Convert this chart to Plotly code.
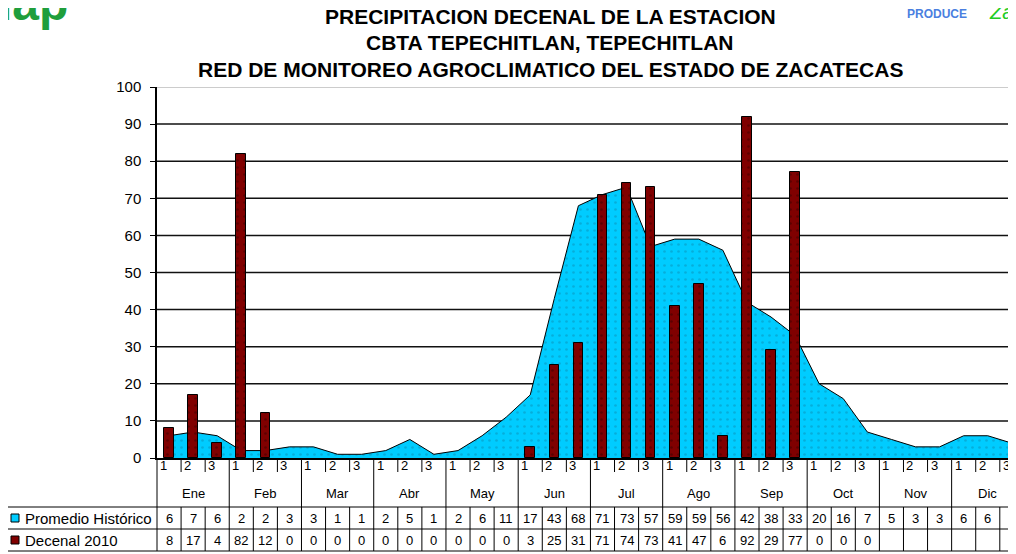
import plotly.graph_objects as go

# ---------------- data ----------------
months = ["Ene", "Feb", "Mar", "Abr", "May", "Jun", "Jul", "Ago", "Sep", "Oct", "Nov", "Dic"]
decades = ["1", "2", "3"]
promedio = [6, 7, 6, 2, 2, 3, 3, 1, 1, 2, 5, 1, 2, 6, 11, 17, 43, 68,
            71, 73, 57, 59, 59, 56, 42, 38, 33, 20, 16, 7, 5, 3, 3, 6, 6, 4]
decenal = [8, 17, 4, 82, 12, 0, 0, 0, 0, 0, 0, 0, 0, 0, 0, 3, 25, 31,
           71, 74, 73, 41, 47, 6, 92, 29, 77, 0, 0, 0, None, None, None, None, None, None]
yticks = list(range(0, 101, 10))
series_names = ["Promedio Histórico", "Decenal 2010"]
title_lines = ["PRECIPITACION DECENAL DE LA ESTACION",
               "CBTA TEPECHITLAN, TEPECHITLAN",
               "RED DE MONITOREO AGROCLIMATICO DEL ESTADO DE ZACATECAS"]

# ---------------- layout geometry ----------------
OFF = 8                       # page body margin of the browser
WIN_W, WIN_H = 1016, 554
W, H = WIN_W - OFF, WIN_H - OFF
PLOT_L, PLOT_T, PLOT_B = 157, 87, 458   # window pixel positions of the plot area
L, T, B, R = PLOT_L - OFF, PLOT_T - OFF, WIN_H - PLOT_B, 0
PH = H - T - B
PW = W - L - R
idx = list(range(len(promedio)))
n = len(idx)
cat_px = 24.08
x_end = -0.5 + PW / cat_px


def py(p):   # window pixel y -> paper y
    return (PLOT_B - p) / PH


def pxp(p):  # window pixel x -> paper x
    return (p - PLOT_L) / PW


FONT = "Liberation Sans, Arial, sans-serif"
CYAN = "#00CCFF"
MAROON = "#800000"

fig = go.Figure()
fig.add_trace(go.Scatter(
    x=idx, y=promedio, mode="lines", name=series_names[0],
    line=dict(color="black", width=1),
    fill="tozeroy", fillcolor=CYAN,
    fillpattern=dict(shape=".", fgcolor="#0a8fb8", bgcolor=CYAN, size=7, solidity=0.12),
))
fig.add_trace(go.Bar(
    x=idx, y=decenal, width=0.4, name=series_names[1], yaxis="y2",
    marker=dict(color=MAROON,
                line=dict(color="black", width=[1 if v else 0 for v in decenal]),
                pattern=dict(shape=".", fgcolor="#3a0000", bgcolor=MAROON, size=7, solidity=0.12)),
))

shapes = []
for v in yticks[1:]:
    shapes.append(dict(type="line", xref="paper", yref="y", x0=0, x1=1, y0=v, y1=v,
                       line=dict(color="#999999" if v == yticks[-1] else "#111111",
                                 width=1 if v == yticks[-1] else 1.5),
                       layer="below"))

# table geometry (window pixels)
y_axis = PLOT_B
y_small = 472
y_row1 = 507
y_row2 = 529
y_row3 = 551
x_tab_left = 7

for i in range(1, n + 1):
    xb = i - 0.5
    if i % 3 == 0:
        shapes.append(dict(type="line", xref="x", yref="paper", x0=xb, x1=xb,
                           y0=py(y_axis), y1=py(y_row3), line=dict(color="black", width=1)))
    else:
        shapes.append(dict(type="line", xref="x", yref="paper", x0=xb, x1=xb,
                           y0=py(y_axis), y1=py(y_small), line=dict(color="black", width=1)))
        shapes.append(dict(type="line", xref="x", yref="paper", x0=xb, x1=xb,
                           y0=py(y_row1), y1=py(y_row3), line=dict(color="black", width=1)))
shapes.append(dict(type="line", xref="paper", yref="paper", x0=0, x1=0,
                   y0=py(y_axis), y1=py(y_row3), line=dict(color="black", width=1)))
for yy in (y_row1, y_row2, y_row3):
    shapes.append(dict(type="line", xref="paper", yref="paper", x0=pxp(x_tab_left), x1=1,
                       y0=py(yy), y1=py(yy), line=dict(color="black", width=1)))
shapes.append(dict(type="line", xref="paper", yref="paper", x0=pxp(x_tab_left), x1=pxp(x_tab_left),
                   y0=py(y_row1), y1=py(y_row3), line=dict(color="black", width=1)))
for yc, col in [(518, CYAN), (540, MAROON)]:
    shapes.append(dict(type="rect", xref="paper", yref="paper",
                       x0=pxp(11), x1=pxp(19), y0=py(yc - 4), y1=py(yc + 4),
                       fillcolor=col, line=dict(color="black", width=1)))

ann = []
for k, line in enumerate(title_lines):
    ann.append(dict(text=f"<b>{line}</b>", xref="paper", yref="paper", x=pxp(550), y=py(16 + 27 * k),
                    xanchor="center", yanchor="middle", showarrow=False, borderpad=0,
                    font=dict(family=FONT, size=21, color="black")))
for i in idx:
    ann.append(dict(text=decades[i % 3], xref="x", yref="paper", x=i - 0.5, y=py(465),
                    xanchor="left", yanchor="middle", xshift=1, showarrow=False,
                    font=dict(family=FONT, size=13, color="black")))
for m, name in enumerate(months):
    ann.append(dict(text=name, xref="x", yref="paper", x=3 * m + 1, y=py(494),
                    xanchor="center", yanchor="middle", showarrow=False,
                    font=dict(family=FONT, size=13, color="black")))
for i in idx:
    ann.append(dict(text=str(promedio[i]), xref="x", yref="paper", x=i, y=py(518),
                    xanchor="center", yanchor="middle", showarrow=False,
                    font=dict(family=FONT, size=13, color="black")))
    ann.append(dict(text="" if decenal[i] is None else str(decenal[i]), xref="x", yref="paper",
                    x=i, y=py(540), xanchor="center", yanchor="middle", showarrow=False,
                    font=dict(family=FONT, size=13, color="black")))
for nm, yc in zip(series_names, (518, 540)):
    ann.append(dict(text=nm, xref="paper", yref="paper", x=pxp(23), y=py(yc),
                    xanchor="left", yanchor="middle", showarrow=False,
                    font=dict(family=FONT, size=15, color="black")))
# logos (decoration, partly cut at the top as in the reference)
ann.append(dict(text="<b>iap</b>", xref="paper", yref="paper", x=pxp(-2), y=py(31),
                xanchor="left", yanchor="bottom", showarrow=False, borderpad=0,
                font=dict(family=FONT, size=48, color="#1f9e3c")))
ann.append(dict(text="<b>PRODUCE</b>", xref="paper", yref="paper", x=pxp(937), y=py(14),
                xanchor="center", yanchor="middle", showarrow=False, borderpad=0,
                font=dict(family=FONT, size=12, color="#4a7fe0")))
ann.append(dict(text="<i>Zac</i>", xref="paper", yref="paper", x=pxp(988), y=py(12),
                xanchor="left", yanchor="middle", showarrow=False, borderpad=0,
                font=dict(family=FONT, size=20, color="#22cc22")))

fig.update_layout(
    width=W, height=H,
    margin=dict(l=L, r=R, t=T, b=B, pad=0),
    paper_bgcolor="white", plot_bgcolor="white",
    showlegend=False, bargap=0,
    shapes=shapes, annotations=ann,
    xaxis=dict(range=[-0.5, x_end], showgrid=False, zeroline=False, showticklabels=False,
               ticks="", showline=True, linecolor="black", linewidth=1.5, fixedrange=True),
    yaxis=dict(range=[0, 100], tickvals=yticks, ticks="outside", ticklen=5, tickcolor="black",
               showline=True, linecolor="black", linewidth=1.5, showgrid=False, zeroline=False,
               ticklabelstandoff=6,
               tickfont=dict(family=FONT, size=15, color="black"), fixedrange=True),
    yaxis2=dict(range=[0, 100], overlaying="y", visible=False, fixedrange=True),
)

fig.write_html("out.html")
